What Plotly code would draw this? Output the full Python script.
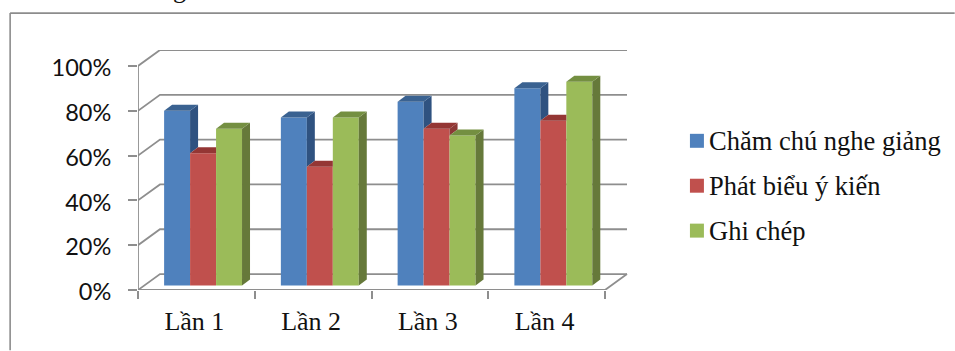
import plotly.graph_objects as go

# Chart data
categories = ["Lần 1", "Lần 2", "Lần 3", "Lần 4"]
series_names = ["Chăm chú nghe giảng", "Phát biểu ý kiến", "Ghi chép"]
chuyen_can = [78, 75, 82, 88]
phat_bieu = [59, 53, 70, 73.5]
ghi_chep = [70, 75, 67, 91]
y_ticks = [0, 20, 40, 60, 80, 100]

series_values = [chuyen_can, phat_bieu, ghi_chep]
front_colors = ["#4F81BD", "#C0504D", "#9BBB59"]
side_colors = ["#2F5280", "#8C3836", "#66793A"]
top_colors = ["#3A6291", "#943634", "#748F41"]

# Canvas and plot box in pixels
W, H = 955, 351
PLOT_L, PLOT_R, PLOT_T, PLOT_B = 137.5, 629.0, 50.0, 290.5
PX_PER_CAT = (605.0 - PLOT_L) / 4
PX_PER_UNIT = (PLOT_B - 66.0) / 100

# Oblique projection offsets, in data units
WALL_DX, WALL_DY = 22 / PX_PER_CAT, 16 / PX_PER_UNIT
BAR_DX, BAR_DY = 8 / PX_PER_CAT, 6 / PX_PER_UNIT
FLOOR_DX, FLOOR_DY = 6.7 / PX_PER_CAT, 4.5 / PX_PER_UNIT
BAR_W = 26 / PX_PER_CAT
X_MIN, X_MAX = -0.5, 3.5


def px_x(px):
    return (px - PLOT_L) / (PLOT_R - PLOT_L)


def px_y(py):
    return (PLOT_B - py) / (PLOT_B - PLOT_T)


fig = go.Figure()

# Front faces
positions = [i + FLOOR_DX for i in range(len(categories))]
for name, vals, col in zip(series_names, series_values, front_colors):
    fig.add_trace(go.Bar(
        x=positions, y=vals, base=[FLOOR_DY] * len(vals), name=name,
        marker=dict(color=col, line=dict(width=0)), showlegend=False,
        hoverinfo="skip",
    ))


def face(xs, ys, color):
    fig.add_trace(go.Scatter(
        x=xs, y=ys, mode="lines", fill="toself", fillcolor=color,
        line=dict(width=0, color=color), showlegend=False, hoverinfo="skip",
    ))


# Side and top faces, hidden where the next bar in the group covers them
for c, pos in enumerate(positions):
    for s, vals in enumerate(series_values):
        xl = pos + (s - 1.5) * BAR_W
        xr = xl + BAR_W
        top = vals[c] + FLOOR_DY
        nb = series_values[s + 1][c] + FLOOR_DY if s < 2 else FLOOR_DY
        if nb < top:
            face([xr, xr + BAR_DX, xr + BAR_DX, xr, xr],
                 [nb, nb + BAR_DY, top + BAR_DY, top, nb], side_colors[s])
        if nb >= top + BAR_DY:
            face([xl, xr, xr, xl + BAR_DX, xl],
                 [top, top, top + BAR_DY, top + BAR_DY, top], top_colors[s])
        else:
            face([xl, xr, xr + BAR_DX, xl + BAR_DX, xl],
                 [top, top, top + BAR_DY, top + BAR_DY, top], top_colors[s])

# Back wall, floor and axis lines sit underneath the bars
GRID = dict(color="#8E8E8E", width=1.8)
shapes = []
for t in y_ticks:
    path = (f"M {X_MIN} {t} L {X_MIN + WALL_DX} {t + WALL_DY} "
            f"L {X_MAX + WALL_DX} {t + WALL_DY}")
    shapes.append(dict(type="path", path=path, xref="x", yref="y", layer="below", line=GRID))
shapes.append(dict(type="path", xref="x", yref="y", layer="below", line=GRID,
                   path=(f"M {X_MIN} 0 L {X_MAX} 0 L {X_MAX + WALL_DX} {WALL_DY}")))
shapes.append(dict(type="line", xref="x", yref="y", layer="below", line=GRID,
                   x0=X_MIN, x1=X_MIN, y0=0, y1=y_ticks[-1]))

# Outer frame: left and top edges
FRAME = dict(color="#8C8C8C", width=1.6)
shapes.append(dict(type="line", xref="paper", yref="paper", line=FRAME,
                   x0=px_x(9.5), x1=px_x(9.5), y0=px_y(351), y1=px_y(13)))
shapes.append(dict(type="line", xref="paper", yref="paper", line=FRAME,
                   x0=px_x(9.5), x1=px_x(955), y0=px_y(13), y1=px_y(13)))

# Legend swatches and labels
annotations = []
for i, (name, col) in enumerate(zip(series_names, front_colors)):
    cy = 141 + 45 * i
    shapes.append(dict(type="rect", xref="paper", yref="paper", fillcolor=col,
                       line=dict(width=0), x0=px_x(690), x1=px_x(704),
                       y0=px_y(cy + 7), y1=px_y(cy - 7)))
    annotations.append(dict(text=name, xref="paper", yref="paper", x=px_x(707),
                            y=px_y(cy), xanchor="left", yanchor="middle", showarrow=False,
                            font=dict(family="Liberation Serif", size=26.5, color="#111111")))

# Tail of a heading line that runs off the top of the canvas
annotations.append(dict(text="g", xref="paper", yref="paper", x=px_x(179), y=px_y(6),
                        xanchor="center", yanchor="bottom", showarrow=False,
                        font=dict(family="Liberation Serif", size=26, color="#111111")))

fig.update_layout(
    width=W, height=H,
    margin=dict(l=PLOT_L, r=W - PLOT_R, t=PLOT_T, b=H - PLOT_B, pad=0, autoexpand=False),
    paper_bgcolor="white", plot_bgcolor="white",
    barmode="group", bargap=1 - 3 * BAR_W, bargroupgap=0,
    showlegend=False, shapes=shapes, annotations=annotations,
    xaxis=dict(
        range=[X_MIN, X_MIN + (PLOT_R - PLOT_L) / PX_PER_CAT],
        tickmode="array", tickvals=list(range(len(categories))), ticktext=categories,
        ticks="", showgrid=False, zeroline=False, showline=False,
        tickfont=dict(family="Liberation Serif", size=26, color="#111111"),
        ticklabelstandoff=13, ticklabelshift=-2,
        minor=dict(tickmode="array", tickvals=[X_MIN + i for i in range(5)], ticks="outside",
                   ticklen=8, tickwidth=1.6, tickcolor="#8E8E8E", showgrid=False),
    ),
    yaxis=dict(
        range=[0, (PLOT_B - PLOT_T) / PX_PER_UNIT],
        tickmode="array", tickvals=y_ticks, ticktext=[f"{t}%" for t in y_ticks],
        ticks="outside", ticklen=9, tickwidth=1.6, tickcolor="#8E8E8E",
        showgrid=False, zeroline=False, showline=False,
        tickfont=dict(family="Lato", size=23.5, color="#111111"),
        ticklabelstandoff=12, ticklabelshift=2,
    ),
)

fig.write_html("out.html")
